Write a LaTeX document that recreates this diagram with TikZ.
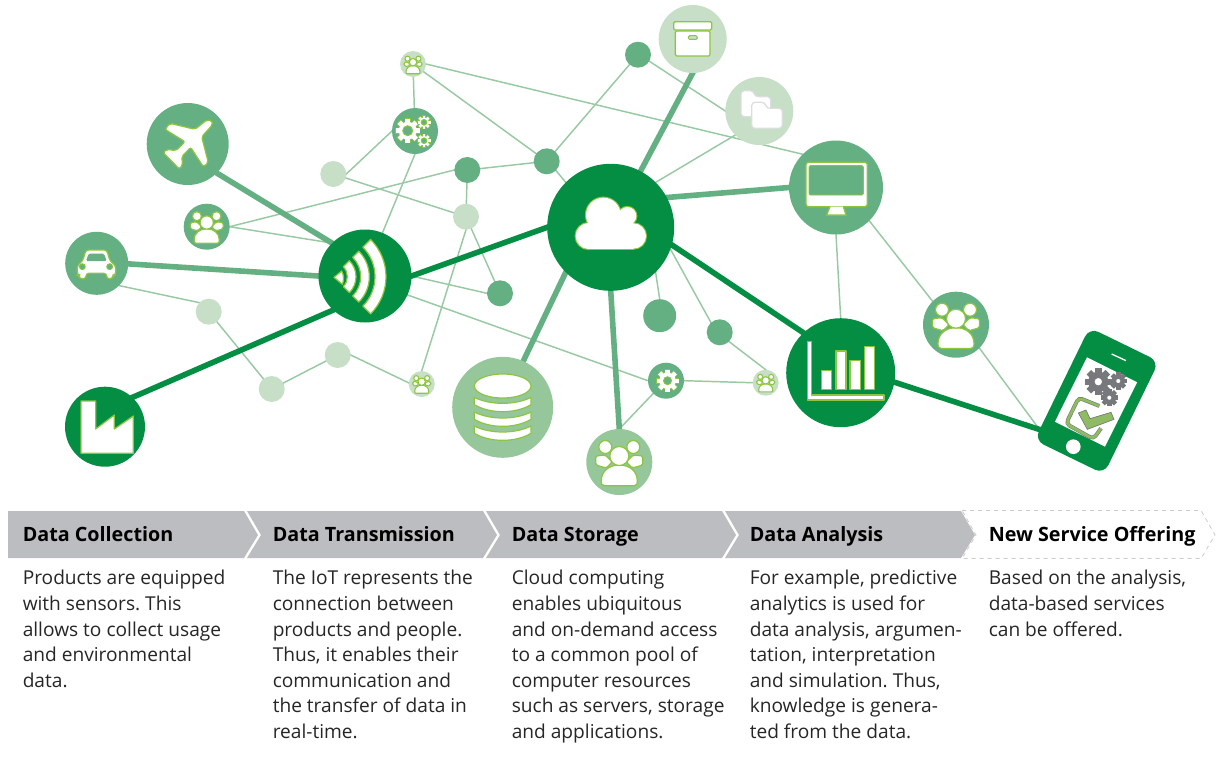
\documentclass[tikz,border=0pt]{standalone}
\usepackage{fontspec}
\setmainfont{Open Sans}
\usetikzlibrary{backgrounds}
\frenchspacing
\definecolor{cdark}{HTML}{038E43}
\definecolor{cmid}{HTML}{65B082}
\definecolor{clight}{HTML}{95C79B}
\definecolor{cpale}{HTML}{C6DFC6}
\definecolor{cthin}{HTML}{98C9A3}
\definecolor{limec}{HTML}{8CC63F}
\definecolor{cband}{HTML}{BCBDC0}
\definecolor{cgear}{HTML}{77787B}
\definecolor{colive}{HTML}{8FBB62}
\definecolor{cfold}{HTML}{DCDDDE}
\tikzset{
  disc/.style={circle,inner sep=0pt,outer sep=0pt,minimum size=#1*1.5pt},
  dk/.style={disc=#1,fill=cdark},
  md/.style={disc=#1,fill=cmid},
  lt/.style={disc=#1,fill=clight},
  pl/.style={disc=#1,fill=cpale},
  thinl/.style={draw=cthin,line width=1.1pt,shorten >=-1pt,shorten <=-1pt},
  thickd/.style={draw=cdark,line width=4.2pt,shorten >=-2pt,shorten <=-2pt},
  thickm/.style={draw=cmid,line width=4.2pt,shorten >=-2pt,shorten <=-2pt},
  ico/.style={draw=limec,fill=white,line width=.9pt,line join=round},
  cloudo/.style={draw=limec,line width=1.6pt,fill=limec},
  cloudf/.style={fill=white},
  zA/.style={shift={(50,90)},x=.25pt,y=-.25pt},
  zB/.style={shift={(440,0)},x=.25pt,y=-.25pt},
  zC/.style={shift={(780,280)},x=.25pt,y=-.25pt},
  zD/.style={shift={(440,290)},x=.25pt,y=-.25pt},
  zP/.style={shift={(1030,325)},x=.25pt,y=-.25pt},
  head/.style={anchor=base west,inner sep=0pt,font=\fontsize{14.8pt}{17pt}\selectfont\bfseries},
  body/.style={anchor=north west,inner sep=0pt,align=left,font=\fontsize{14.35pt}{19.2pt}\selectfont,text=black!85},
  band/.style={fill=cband}
}
% people icon, offsets for a disc of radius 33
\newcommand\peopleicon[4]{%
  \begin{scope}[shift={(#1,#2)},scale=#3]
    \tikzset{every path/.style={draw=limec,fill=white,line width=#4,line join=round}}
    \path[rounded corners=1.2] (-14,-7) -- (-23.5,-6) -- (-23.5,3) -- (-13,6) -- (-7,0) -- cycle;
    \path[rounded corners=1.2] (14,-7) -- (23.5,-6) -- (23.5,3) -- (13,6) -- (7,0) -- cycle;
    \path (-14,-15) circle (6.5);
    \path (14,-15) circle (6.5);
    \path (-15,23.7) .. controls (-18,23.7) and (-18,21) .. (-18,19) .. controls (-18,9) and (-10,3) .. (0,3) .. controls (10,3) and (18,9) .. (18,19) .. controls (18,21) and (18,23.7) .. (15,23.7) -- cycle;
    \path (0,-6) circle (9.5);
  \end{scope}}
\newcommand\gearpass[2]{%
  \foreach \a in {0,45,...,315}{\path[#2,rotate=\a] (-.2*#1,.6*#1) rectangle (.2*#1,#1);}
  \path[#2] (0,0) circle (.74*#1);}
% x,y,R,hole,body,hole colour,stroke
\newcommand\gearicon[7]{%
  \begin{scope}[shift={(#1,#2)}]
    \gearpass{#3}{fill=#7,draw=#7,line width=1pt}
    \gearpass{#3}{fill=#5}
    \path[fill=#6,draw=#7,line width=.7pt] (0,0) circle (#4);
  \end{scope}}
\newcommand\wifiband[2]{%
  \path[ico] (850,560) ++(-45:#2) arc[start angle=-45,end angle=45,radius=#2] -- ++(45:#1-#2) arc[start angle=45,end angle=-45,radius=#1] -- cycle;}
\begin{document}
\begin{tikzpicture}[x=.75pt,y=-.75pt]
\useasboundingbox (0,0) rectangle (1221,765);
% ---------- nodes
\node[md=41] (plane) at (187.7,144) {};
\node[md=23] (spl) at (206.7,226.7) {};
\node[md=31.5] (car) at (96.7,263.3) {};
\node[dk=40] (factory) at (105,426.7) {};
\node[dk=46.5] (wifi) at (365,276) {};
\node[pl=13] (p1) at (333.3,174) {};
\node[md=23] (gears) at (415,131) {};
\node[pl=13] (p2) at (208.7,311.7) {};
\node[pl=13] (p3) at (271.7,389) {};
\node[pl=13] (p4) at (337.7,355) {};
\node[pl=13] (sp1) at (421.7,384) {};
\node[pl=13] (topp) at (413,64) {};
\node[pl=34] (archive) at (692.7,39) {};
\node[pl=34] (folder) at (759.3,111) {};
\node[md=13] (d1) at (638,54.7) {};
\node[md=13] (d2) at (546.7,161.3) {};
\node[md=13] (d3) at (467.3,170) {};
\node[pl=13] (p5) at (466,216.7) {};
\node[md=13] (d4) at (500,293.3) {};
\node[dk=63.5] (cloud) at (610.7,227.3) {};
\node[md=47] (monitor) at (836,187.5) {};
\node[dk=54.5] (chart) at (840.7,372.7) {};
\node[md=33] (pbig) at (956,324.7) {};
\node[lt=50.5] (db) at (502.7,407.3) {};
\node[lt=33] (pbot) at (619.3,462) {};
\node[md=16.5] (d5) at (659.7,315.7) {};
\node[md=13] (d6) at (719.7,332.3) {};
\node[md=18] (gear) at (666,380.7) {};
\node[pl=13] (sp2) at (765.7,382.7) {};
\node[fill=cdark,rotate=-26,rounded corners=7.5pt,inner sep=0pt,minimum width=58pt,minimum height=94pt] (phone) at (1096.7,400.8) {};
\coordinate (jack) at (1039.5,429.5);
% ---------- connectors
\begin{scope}[on background layer]
\draw[thinl] (topp) -- (gears);
\draw[thinl] (topp.0) -- (monitor.135);
\draw[thinl] (topp) -- (d2);
\draw[thinl] (gears.180) -- (p1.0);
\draw[thinl] (gears.270) -- (wifi.68);
\draw[thinl] (p1) -- (p5);
\draw[thinl] (spl.0) -- (d3.180);
\draw[thinl] (spl.0) -- (wifi.135);
\draw[thinl] (d3) -- (d2);
\draw[thinl] (d3) -- (p5);
\draw[thinl] (p5) -- (d4);
\draw[thinl] (p5.270) -- (sp1.90);
\draw[thinl] (wifi.0) -- (d4.180);
\draw[thinl] (wifi.-24) -- (gear.180);
\draw[thinl] (car.-45) -- (p2.136);
\draw[thinl] (p2) -- (p3);
\draw[thinl] (p3) -- (p4);
\draw[thinl] (p4.0) -- (sp1.175);
\draw[thinl] (d2) -- (d1);
\draw[thinl] (d2.-45) -- (cloud.135);
\draw[thinl] (d1.-30) -- (folder.180);
\draw[thinl] (folder.225) -- (cloud.45);
\draw[thinl] (cloud.-45) -- (d5.90);
\draw[thinl] (cloud.-20) -- (d6.132);
\draw[thinl] (d6.-45) -- (sp2.90);
\draw[thinl] (gear.0) -- (sp2.180);
\draw[thinl] (gear.225) -- (pbot.90);
\draw[thinl] (monitor.270) -- (chart.90);
\draw[thinl] (monitor.-45) -- (pbig.135);
\draw[thinl] (pbig.-45) -- (jack);
\draw[thickm] (plane.-45) -- (wifi.135);
\draw[thickm] (car.-1) -- (wifi.180);
\draw[thickm] (cloud.62) -- (archive.270);
\draw[thickm] (cloud.28.6) -- (monitor.180);
\draw[thickm] (cloud.225) -- (db.66);
\draw[thickm] (cloud.270) -- (pbot.90);
\draw[thickd] (wifi.0) -- (cloud.180);
\draw[thickd] (factory.47) -- (wifi.227);
\draw[thickd] (cloud.-16) -- (chart.133);
\draw[thickd] (chart.-10) -- (jack);
\end{scope}
% ---------- icons from the first crop
\begin{scope}[zA]
  \path[ico,rounded corners=1.5pt] (487,92) -- (470,90) -- (435,118) -- (360,100) -- (345,118) -- (405,155) -- (378,182) -- (350,178) -- (340,188) -- (388,237) -- (398,225) -- (395,200) -- (422,172) -- (460,230) -- (475,218) -- (455,140) -- (487,105) -- cycle;
  \path[ico] (93,933) -- (137,933) -- (137,1017) -- (193,975) -- (193,1017) -- (250,978) -- (250,1090) -- (93,1090) -- cycle;
  \path[ico,rounded corners=2pt] (82,555) -- (82,527) -- (98,513) -- (108,480) -- (170,480) -- (180,513) -- (197,527) -- (197,555) -- (188,555) -- (188,566) -- (170,566) -- (170,550) -- (108,550) -- (108,566) -- (88,566) -- (88,555) -- cycle;
  \path[fill=cmid,rounded corners=1pt] (116,491) -- (162,491) -- (170,513) -- (108,513) -- cycle;
  \path[fill=cmid,draw=limec,line width=.6pt] (97,530) circle (9);
  \path[fill=cmid,draw=limec,line width=.6pt] (179,530) circle (9);
  \path[ico] (852,562) -- (875,543) .. controls (882,555) and (882,572) .. (877,583) -- cycle;
  \wifiband{42}{68}
  \wifiband{82}{108}
  \wifiband{125}{158}
\end{scope}
% cloud
\begin{scope}[zB]
  \foreach \s in {cloudo,cloudf}{
    \path[\s] (490,645) circle (52);
    \path[\s] (562,648) circle (27);
    \path[\s] (446,708) circle (39);
    \path[\s] (580,708) circle (38);
    \path[\s] (446,670) rectangle (580,746);
    \path[\s] (500,650) rectangle (575,700);
  }
  % archive
  \path[ico,rounded corners=1pt] (701,65) rectangle (815,90);
  \path[ico,rounded corners=1pt] (706,93) rectangle (810,168);
  \path[draw=limec,fill=cpale,line width=.7pt,rounded corners=1pt] (745,107) rectangle (772,118);
  % folders
  \path[draw=cfold,fill=white,line width=.9pt,rounded corners=2.5pt] (903,350) -- (903,272) -- (940,272) -- (945,290) -- (992,290) -- (992,350) -- cycle;
  \path[draw=cfold,fill=white,line width=.9pt,rounded corners=2.5pt] (935,385) -- (935,307) -- (975,307) -- (980,325) -- (1027,325) -- (1027,385) -- cycle;
\end{scope}
% monitor
\path[ico,rounded corners=2pt] (806,162.3) rectangle (867.3,206.7);
\path[draw=limec,fill=cmid,line width=.7pt,rounded corners=1pt] (809,165.7) rectangle (863.3,195);
\path[ico] (830,206.7) -- (826.7,215) -- (846,215) -- (843.3,206.7);
% chart
\begin{scope}[zC]
  \path[ico] (82,185) -- (95,185) -- (95,345) -- (312,345) -- (312,360) -- (82,360) -- cycle;
  \path[ico] (125,272) rectangle (155,328);
  \path[ico] (168,213) rectangle (198,328);
  \path[ico] (210,241) rectangle (241,328);
  \path[ico] (253,200) rectangle (283,328);
\end{scope}
% database
\begin{scope}[zD]
  \path[ico] (188,288) ellipse (85 and 36);
  \foreach \y in {322,366,408}{
    \path[ico] (103,\y) .. controls (150,\y+24) and (226,\y+24) .. (273,\y) -- (273,\y+22) .. controls (226,\y+50) and (150,\y+50) .. (103,\y+22) -- cycle;
  }
\end{scope}
% people
\peopleicon{956}{324.7}{1}{.9pt}
\peopleicon{619.3}{462}{1}{.9pt}
\peopleicon{206.7}{226.7}{.7}{.9pt}
\peopleicon{413}{64.5}{.39}{.8pt}
\peopleicon{421.7}{384}{.39}{.8pt}
\peopleicon{765.7}{382.7}{.39}{.8pt}
% gears
\gearicon{407.7}{130.7}{12}{5}{white}{cmid}{limec}
\gearicon{424}{122.3}{6.5}{2.8}{white}{cmid}{limec}
\gearicon{424}{140.7}{6.5}{2.8}{white}{cmid}{limec}
\gearicon{667.5}{380.7}{11}{4}{white}{cmid}{limec}
% phone
\node[fill=white,rotate=-26.5,inner sep=0pt,minimum width=42pt,minimum height=54pt] (screen) at (1096,402) {};
\node[fill=white,circle,inner sep=0pt,minimum size=11pt] (button) at (1073.3,446.7) {};
\begin{scope}[zP]
  \path[draw=white,line width=1pt] (245,87) -- (288,107);
  \path[draw=cgear,line width=2.9pt,rounded corners=3pt] (208,243) -- (146,218) -- (108,296) -- (190,342) -- (213,310);
  \path[draw=colive,line width=2pt,rounded corners=3pt] (208,243) -- (146,218) -- (108,296) -- (190,342) -- (213,310);
  \path[fill=colive,draw=cgear,line width=.5pt] (145,264) -- (168,255) -- (180,281) -- (243,262) -- (252,283) -- (172,313) -- cycle;
\end{scope}
\gearicon{1098.3}{381.7}{12.7}{4.3}{cgear}{white}{cgear}
\gearicon{1118.3}{381}{8}{2.7}{cgear}{white}{cgear}
\gearicon{1109.3}{397.7}{8}{2.7}{cgear}{white}{cgear}
% ---------- process band
\path[band] (8,511) -- (244,511) -- (258,535) -- (244,558) -- (8,558) -- cycle;
\path[band] (247,511) -- (483,511) -- (497,535) -- (483,558) -- (247,558) -- (261,535) -- cycle;
\path[band] (486,511) -- (722,511) -- (736,535) -- (722,558) -- (486,558) -- (500,535) -- cycle;
\path[band] (725,511) -- (961,511) -- (975,535) -- (961,558) -- (725,558) -- (739,535) -- cycle;
\path[draw=cband!80,dashed,line width=.6pt] (962,510.5) -- (1201,510.5) -- (1215,535) -- (1201,558.5) -- (962,558.5) -- (976,535) -- cycle;
\node[head] (h1) at (22.5,541.5) {Data Collection};
\node[head] (h2) at (272.5,541.5) {Data Transmission};
\node[head] (h3) at (511.5,541.5) {Data Storage};
\node[head] (h4) at (749.5,541.5) {Data Analysis};
\node[head] (h5) at (988.5,541.5) {New Service Offering};
\node[body] (b1) at (22.5,570) {Products are equipped\\with sensors. This\\allows to collect usage\\and environmental\\data.};
\node[body] (b2) at (272.5,570) {The IoT represents the\\connection between\\products and people.\\Thus, it enables their\\communication and\\the transfer of data in\\real-time.};
\node[body] (b3) at (511.5,570) {Cloud computing\\enables ubiquitous\\and on-demand access\\to a common pool of\\computer resources\\such as servers, storage\\and applications.};
\node[body] (b4) at (749.5,570) {For example, predictive\\analytics is used for\\data analysis, argumen-\\tation, interpretation\\and simulation. Thus,\\knowledge is genera-\\ted from the data.};
\node[body] (b5) at (988.5,570) {Based on the analysis,\\data-based services\\can be offered.};
\end{tikzpicture}
\end{document}
